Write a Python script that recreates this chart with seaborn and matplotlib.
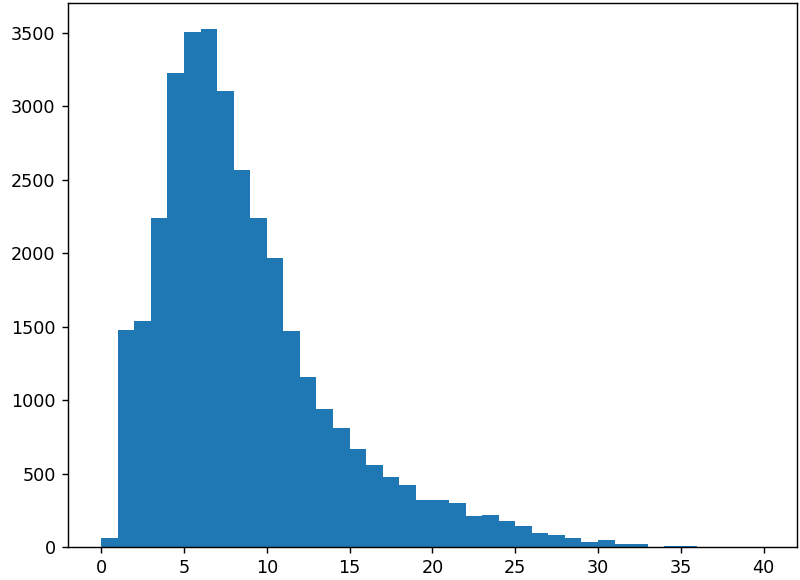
import numpy as np
import pandas as pd
import matplotlib
matplotlib.use("Agg")
import matplotlib.pyplot as plt
import seaborn as sns

# Histogram counts per unit-wide bin (0-1, 1-2, ..., 39-40)
bin_left = list(range(0, 40))
counts = [61, 1480, 1541, 2238, 3228, 3505, 3529, 3107, 2568, 2238,
          1966, 1473, 1160, 942, 811, 670, 561, 479, 420, 322,
          322, 302, 211, 220, 179, 141, 98, 79, 59, 36,
          48, 18, 18, 2, 9, 9, 1, 0, 0, 1]

df = pd.DataFrame({"value": [b + 0.5 for b in bin_left], "count": counts})

DPI = 127
fig = plt.figure(figsize=(800 / DPI, 580 / DPI), dpi=DPI)
ax = fig.add_axes([0.085, 0.057, 0.911, 0.938])
sns.histplot(data=df, x="value", weights="count", binwidth=1, binrange=(0, 40),
             color="#1f77b4", alpha=1, linewidth=0, edgecolor="none", ax=ax)
ax.set_xlabel("")
ax.set_ylabel("")
ax.set_xticks([0, 5, 10, 15, 20, 25, 30, 35, 40])
ax.set_yticks([0, 500, 1000, 1500, 2000, 2500, 3000, 3500])
fig.savefig("out.png", dpi=DPI)
